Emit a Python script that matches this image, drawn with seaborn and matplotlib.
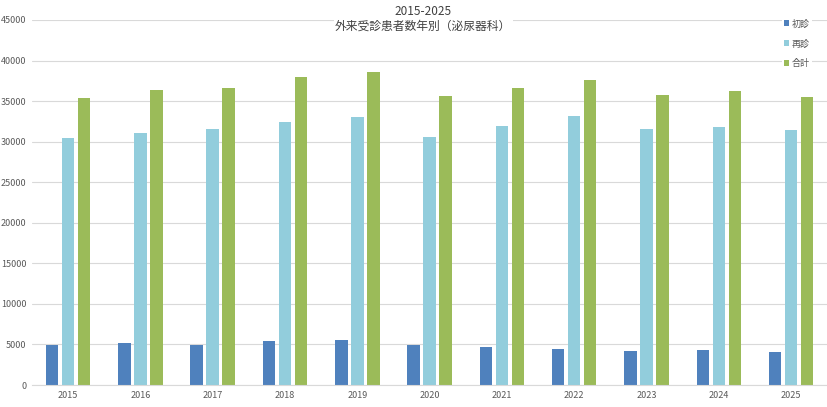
import pandas as pd
import matplotlib.pyplot as plt
import seaborn as sns

years = ['2015', '2016', '2017', '2018', '2019', '2020',
         '2021', '2022', '2023', '2024', '2025']
first_visit = [4900, 5230, 4950, 5440, 5570, 4980, 4650, 4400, 4160, 4330, 4080]
return_visit = [30460, 31080, 31570, 32400, 33060, 30580, 31910, 33140, 31570, 31820, 31450]
total = [35370, 36310, 36640, 37970, 38620, 35620, 36640, 37630, 35810, 36240, 35530]
series = ['初診', '再診', '合計']
colors = ['#4F81BD', '#92CDDC', '#9BBB59']

data = pd.DataFrame({
    'year': years * 3,
    'kind': [series[0]] * 11 + [series[1]] * 11 + [series[2]] * 11,
    'count': first_visit + return_visit + total,
})

sns.set_style('white')
plt.rcParams['font.family'] = ['Noto Sans CJK JP', 'DejaVu Sans']

fig = plt.figure(figsize=(8.28, 4.07), dpi=100)
ax = fig.add_axes([0.0386, 0.054, 0.9605, 0.897])

sns.barplot(data=data, x='year', y='count', hue='kind', palette=colors,
            width=0.664, gap=0.22, linewidth=0, ax=ax, legend=True,
            saturation=1)

ax.set_ylim(0, 45000)
ax.set_xlim(-0.5, 10.5)
ax.set_yticks(range(0, 45001, 5000))
ax.yaxis.grid(True, color='#d9d9d9', linewidth=0.8)
ax.set_axisbelow(True)
for s in ['top', 'right', 'left']:
    ax.spines[s].set_visible(False)
ax.spines['bottom'].set_color('#d9d9d9')
ax.tick_params(axis='both', length=0, labelsize=6.5, labelcolor='#595959', pad=4)
ax.set_xlabel('')
ax.set_ylabel('')

# two-line title with white box over the gridlines
fig.text(0.511, 0.971, '2015-2025', ha='center', va='center', fontsize=8.5,
         color='#404040', bbox=dict(facecolor='white', edgecolor='none', pad=1))
fig.text(0.511, 0.935, '外来受診患者数年別（泌尿器科）', ha='center', va='center',
         fontsize=8.5, color='#404040',
         bbox=dict(facecolor='white', edgecolor='none', pad=1))

leg = ax.legend(loc='upper left', bbox_to_anchor=(0.939, 0.968),
                bbox_transform=fig.transFigure, frameon=True, fontsize=6.5,
                handlelength=0.6, handleheight=0.6, handletextpad=0.3,
                labelspacing=1.2, borderpad=0.2)
leg.get_frame().set_facecolor('white')
leg.get_frame().set_edgecolor('none')
leg.get_frame().set_alpha(1)
for t in leg.get_texts():
    t.set_color('#595959')

plt.savefig('out.png', dpi=100)
